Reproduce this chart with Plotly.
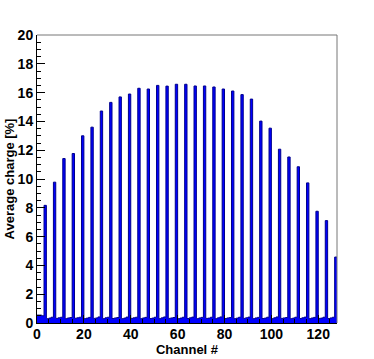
import plotly.graph_objects as go

# Per-channel average charge [%] for channels 0..127 (bin i spans [i, i+1))
channel_charge = [
    0.55, 0.55, 0.50, 8.17,
    0.30, 0.34, 0.40, 9.78,
    0.32, 0.36, 0.40, 11.42,
    0.30, 0.35, 0.38, 11.77,
    0.33, 0.36, 0.40, 13.00,
    0.30, 0.34, 0.39, 13.60,
    0.32, 0.35, 0.42, 14.72,
    0.30, 0.36, 0.40, 15.32,
    0.31, 0.35, 0.38, 15.70,
    0.30, 0.34, 0.41, 15.90,
    0.32, 0.36, 0.40, 16.30,
    0.30, 0.35, 0.39, 16.25,
    0.31, 0.34, 0.40, 16.50,
    0.30, 0.36, 0.42, 16.45,
    0.32, 0.35, 0.38, 16.58,
    0.30, 0.34, 0.40, 16.58,
    0.31, 0.36, 0.41, 16.46,
    0.30, 0.35, 0.39, 16.46,
    0.32, 0.34, 0.40, 16.39,
    0.30, 0.36, 0.42, 16.25,
    0.31, 0.35, 0.38, 16.11,
    0.30, 0.34, 0.40, 15.86,
    0.32, 0.36, 0.41, 15.55,
    0.30, 0.35, 0.39, 14.02,
    0.31, 0.34, 0.40, 13.53,
    0.30, 0.36, 0.42, 12.07,
    0.32, 0.35, 0.38, 11.53,
    0.30, 0.34, 0.40, 10.85,
    0.31, 0.36, 0.41, 9.73,
    0.30, 0.35, 0.39, 7.76,
    0.32, 0.34, 0.40, 7.11,
    0.31, 0.35, 0.40, 4.58,
]
# bin lower edges
channel_edges = list(range(len(channel_charge) + 1))

x_tick_values = [0, 20, 40, 60, 80, 100, 120]
y_tick_values = [0, 2, 4, 6, 8, 10, 12, 14, 16, 18, 20]

step_y = channel_charge + [channel_charge[-1]]

fig = go.Figure()
fig.add_trace(go.Scatter(
    x=channel_edges, y=step_y, mode="lines", line_shape="hv",
    line=dict(color="#00008b", width=1),
    fill="tozeroy", fillcolor="#0000ff",
    hoverinfo="skip", showlegend=False,
))

font_family = "Liberation Sans, Arial, sans-serif"
fig.update_layout(
    width=374, height=359,
    margin=dict(l=37, r=37, t=35, b=36),
    paper_bgcolor="white", plot_bgcolor="white",
    font=dict(family=font_family, color="black"),
    showlegend=False,
)
fig.update_xaxes(
    range=[0, 128], tickvals=x_tick_values, automargin=False,
    ticks="inside", ticklen=8, tickcolor="black", tickwidth=1,
    ticklabelstandoff=-2,
    minor=dict(dtick=5, ticks="inside", ticklen=4, tickcolor="black", showgrid=False),
    showline=True, linecolor="black", linewidth=1, showgrid=False, zeroline=False,
    tickfont=dict(size=14, family=font_family, weight="bold"),
    title=dict(text="<b>Channel #</b>", font=dict(size=13, family=font_family), standoff=0),
)
fig.update_yaxes(
    range=[0, 20], tickvals=y_tick_values, automargin=False,
    ticks="inside", ticklen=8, tickcolor="black", tickwidth=1,
    minor=dict(dtick=0.5, ticks="inside", ticklen=4, tickcolor="black", showgrid=False),
    showline=True, linecolor="black", linewidth=1, showgrid=False, zeroline=False,
    tickfont=dict(size=14, family=font_family, weight="bold"),
    title=dict(text="<b>Average charge [%]</b>", font=dict(size=13, family=font_family), standoff=0),
)
# grey frame on top and right
fig.add_shape(type="line", xref="paper", yref="paper", x0=0, x1=1, y0=1, y1=1,
              line=dict(color="#777777", width=1))
fig.add_shape(type="line", xref="paper", yref="paper", x0=1, x1=1, y0=0, y1=1,
              line=dict(color="#777777", width=1))

fig.write_html(
    "out.html",
    config={"displayModeBar": False},
    post_script="document.body.style.margin='0';document.body.style.overflow='hidden';",
)
